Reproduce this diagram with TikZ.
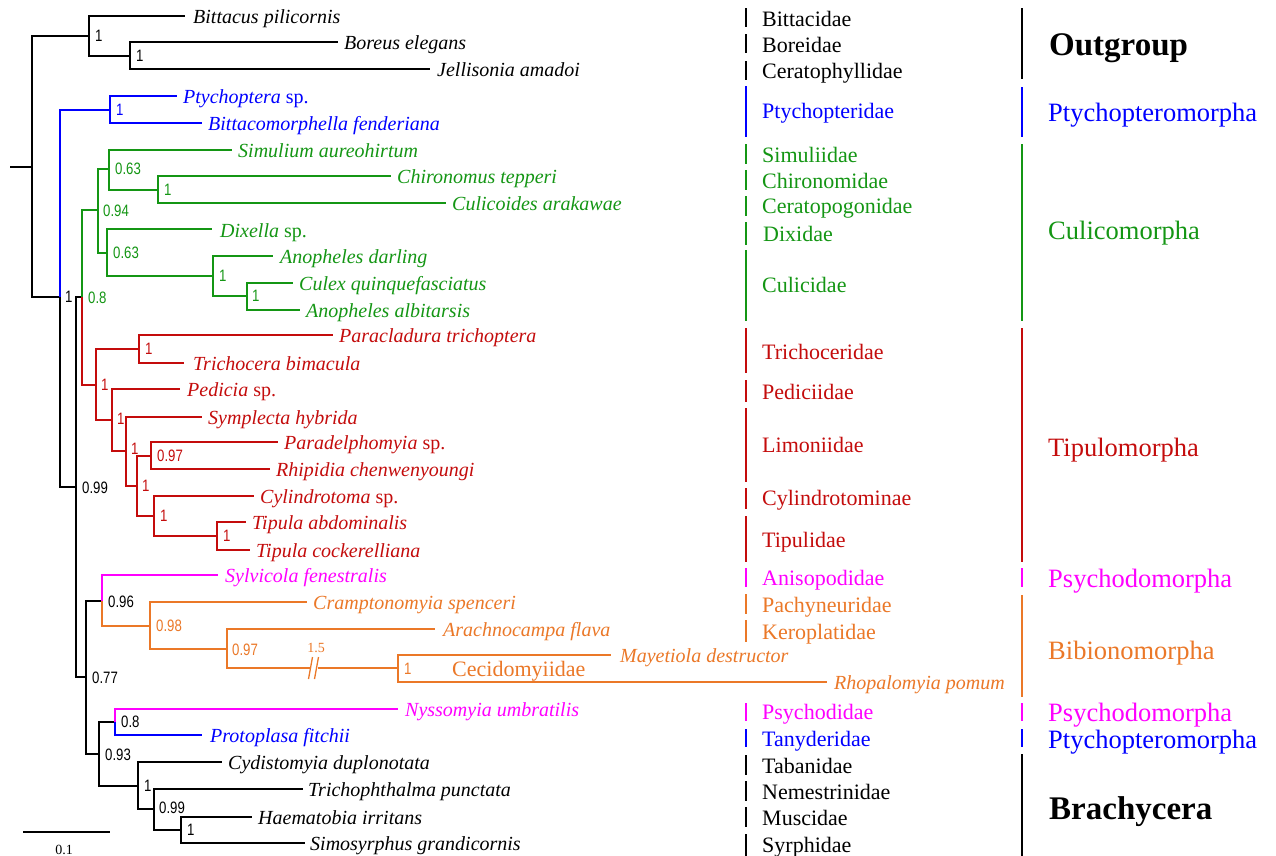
\documentclass[tikz,border=0pt]{standalone}
\usepackage{fontspec}
\setmainfont{Liberation Serif}
\newfontfamily\bsff[FakeStretch=0.8]{Liberation Sans}
\definecolor{cblue}{RGB}{0,0,255}
\definecolor{cgreen}{RGB}{20,150,20}
\definecolor{cred}{RGB}{196,12,12}
\definecolor{cmag}{RGB}{255,0,255}
\definecolor{corange}{RGB}{235,120,40}
\newcommand{\spf}{\fontsize{20bp}{24bp}\selectfont\itshape}
\newcommand{\famf}{\fontsize{22bp}{26bp}\selectfont}
\newcommand{\grpf}{\fontsize{26.5bp}{30bp}\selectfont}
\newcommand{\grpbf}{\fontsize{33bp}{38bp}\selectfont\bfseries}
\newcommand{\bsf}{\bsff\fontsize{16.5bp}{19bp}\selectfont}
\newcommand{\smf}{\fontsize{14bp}{16bp}\selectfont}
\tikzset{
 brl/.style={line width=1.9bp},
 bs/.style={anchor=west, inner sep=0pt, font=\bsf},
 sp/.style={anchor=base west, inner sep=0pt, font=\spf},
 fam/.style={anchor=base west, inner sep=0pt, font=\famf},
 grp/.style={anchor=base west, inner sep=0pt, font=\grpf},
 grpb/.style={anchor=base west, inner sep=0pt, font=\grpbf},
 bar/.style={line width=2.7bp},
}
\begin{document}
\begin{tikzpicture}[x=1bp,y=-1bp]
\useasboundingbox[fill=white] (0,0) rectangle (1276,856);
% ---------- internal nodes ----------
\coordinate (root0) at (10,167);
\coordinate (r0) at (32,167);
\coordinate (o1) at (89,36);
\coordinate (o2) at (130,56);
\coordinate (i1) at (60,297);
\coordinate (p1) at (110,110);
\coordinate (i2) at (76,487);
\coordinate (c0) at (82,297);
\coordinate (g1) at (98,210);
\coordinate (g2) at (109,169);
\coordinate (g3) at (158,190);
\coordinate (g4) at (107,253);
\coordinate (g5) at (213,276);
\coordinate (g6) at (247,296);
\coordinate (t1) at (96,385);
\coordinate (t2) at (139,349);
\coordinate (t3) at (112,420);
\coordinate (t4) at (126,451);
\coordinate (t5) at (137,486);
\coordinate (t6) at (151,456);
\coordinate (t7) at (154,516);
\coordinate (t8) at (217,536);
\coordinate (l0) at (86,677);
\coordinate (b0) at (102,601);
\coordinate (b1) at (150,626);
\coordinate (b2) at (227,649);
\coordinate (bk1) at (311,668);
\coordinate (bk2) at (318,668);
\coordinate (b3) at (398,668);
\coordinate (l1) at (99,754);
\coordinate (ps) at (115,722);
\coordinate (br0) at (138,786);
\coordinate (br1) at (154,809);
\coordinate (br2) at (181,830);
% ---------- tips ----------
\coordinate (bit) at (185,16);
\coordinate (bor) at (338,42);
\coordinate (jel) at (430,69);
\coordinate (pty) at (177,96);
\coordinate (btc) at (202,123);
\coordinate (siu) at (232,150);
\coordinate (chi) at (391,176);
\coordinate (cul) at (446,203);
\coordinate (dix) at (212,229);
\coordinate (and) at (273,256);
\coordinate (cux) at (293,283);
\coordinate (alb) at (300,310);
\coordinate (par) at (333,335);
\coordinate (tri) at (184,363);
\coordinate (ped) at (180,389);
\coordinate (sym) at (202,417);
\coordinate (pde) at (278,442);
\coordinate (rhi) at (270,469);
\coordinate (cyl) at (254,496);
\coordinate (tab) at (246,522);
\coordinate (tco) at (250,550);
\coordinate (syl) at (218,575);
\coordinate (cra) at (307,602);
\coordinate (ara) at (435,629);
\coordinate (may) at (611,655);
\coordinate (rho) at (827,682);
\coordinate (nys) at (398,709);
\coordinate (pro) at (202,735);
\coordinate (cyd) at (222,762);
\coordinate (trp) at (303,789);
\coordinate (hae) at (252,817);
\coordinate (sms) at (305,843);
% ---------- branches ----------
\draw[brl] (root0) -- (r0);
\draw[brl] (r0) |- (o1);
\draw[brl] (r0) |- (i1);
\draw[brl] (o1) |- (bit);
\draw[brl] (o1) |- (o2);
\draw[brl] (o2) |- (bor);
\draw[brl] (o2) |- (jel);
\draw[brl,cblue] (i1) |- (p1);
\draw[brl,cblue] (p1) |- (pty);
\draw[brl,cblue] (p1) |- (btc);
\draw[brl] (i1) |- (i2);
\draw[brl] (i2) |- (c0);
\draw[brl,cgreen] (c0) |- (g1);
\draw[brl,cgreen] (g1) |- (g2);
\draw[brl,cgreen] (g1) |- (g4);
\draw[brl,cgreen] (g2) |- (siu);
\draw[brl,cgreen] (g2) |- (g3);
\draw[brl,cgreen] (g3) |- (chi);
\draw[brl,cgreen] (g3) |- (cul);
\draw[brl,cgreen] (g4) |- (dix);
\draw[brl,cgreen] (g4) |- (g5);
\draw[brl,cgreen] (g5) |- (and);
\draw[brl,cgreen] (g5) |- (g6);
\draw[brl,cgreen] (g6) |- (cux);
\draw[brl,cgreen] (g6) |- (alb);
\draw[brl,cred] (c0) |- (t1);
\draw[brl,cred] (t1) |- (t2);
\draw[brl,cred] (t1) |- (t3);
\draw[brl,cred] (t2) |- (par);
\draw[brl,cred] (t2) |- (tri);
\draw[brl,cred] (t3) |- (ped);
\draw[brl,cred] (t3) |- (t4);
\draw[brl,cred] (t4) |- (sym);
\draw[brl,cred] (t4) |- (t5);
\draw[brl,cred] (t5) |- (t6);
\draw[brl,cred] (t5) |- (t7);
\draw[brl,cred] (t6) |- (pde);
\draw[brl,cred] (t6) |- (rhi);
\draw[brl,cred] (t7) |- (cyl);
\draw[brl,cred] (t7) |- (t8);
\draw[brl,cred] (t8) |- (tab);
\draw[brl,cred] (t8) |- (tco);
\draw[brl] (i2) |- (l0);
\draw[brl] (l0) |- (b0);
\draw[brl,cmag] (b0) |- (syl);
\draw[brl,corange] (b0) |- (b1);
\draw[brl,corange] (b1) |- (cra);
\draw[brl,corange] (b1) |- (b2);
\draw[brl,corange] (b2) |- (ara);
\draw[brl,corange] (b2) |- (bk1);
\draw[brl,corange] (bk2) -- (b3);
\draw[line width=1.3bp,corange] (308.5,679) -- (312.5,657);
\draw[line width=1.3bp,corange] (314.5,679) -- (318.5,657);
\draw[brl,corange] (b3) |- (may);
\draw[brl,corange] (b3) |- (rho);
\draw[brl] (l0) |- (l1);
\draw[brl] (l1) |- (ps);
\draw[brl,cmag] (ps) |- (nys);
\draw[brl,cblue] (ps) |- (pro);
\draw[brl] (l1) |- (br0);
\draw[brl] (br0) |- (cyd);
\draw[brl] (br0) |- (br1);
\draw[brl] (br1) |- (trp);
\draw[brl] (br1) |- (br2);
\draw[brl] (br2) |- (hae);
\draw[brl] (br2) |- (sms);
% ---------- support values ----------
\node[bs] (o1b) at (95,36) {1};
\node[bs] (o2b) at (136,56) {1};
\node[bs] (i1b) at (65,297) {1};
\node[bs,cblue] (p1b) at (116,110) {1};
\node[bs] (i2b) at (82,488) {0.99};
\node[bs,cgreen] (c0b) at (88,298) {0.8};
\node[bs,cgreen] (g1b) at (103,211) {0.94};
\node[bs,cgreen] (g2b) at (115,169) {0.63};
\node[bs,cgreen] (g3b) at (164,190) {1};
\node[bs,cgreen] (g4b) at (113,253) {0.63};
\node[bs,cgreen] (g5b) at (219,276) {1};
\node[bs,cgreen] (g6b) at (252,296) {1};
\node[bs,cred] (t1b) at (101,385) {1};
\node[bs,cred] (t2b) at (145,349) {1};
\node[bs,cred] (t3b) at (117,419) {1};
\node[bs,cred] (t4b) at (131,449) {1};
\node[bs,cred] (t5b) at (142,486) {1};
\node[bs,cred] (t6b) at (157,456) {0.97};
\node[bs,cred] (t7b) at (160,516) {1};
\node[bs,cred] (t8b) at (223,536) {1};
\node[bs] (l0b) at (92,678) {0.77};
\node[bs] (b0b) at (108,602) {0.96};
\node[bs,corange] (b1b) at (156,626) {0.98};
\node[bs,corange] (b2b) at (232,650) {0.97};
\node[bs,corange] (b3b) at (404,669) {1};
\node[bs] (l1b) at (105,755) {0.93};
\node[bs] (psb) at (121,722) {0.8};
\node[bs] (br0b) at (144,786) {1};
\node[bs] (br1b) at (159,808) {0.99};
\node[bs] (br2b) at (187,830) {1};
\node[font=\smf,corange,inner sep=0pt] (brk) at (316,648) {1.5};
\node[fam,corange] (cec) at (452,676) {Cecidomyiidae};
% ---------- scale bar ----------
\coordinate (sb1) at (23,832);
\coordinate (sb2) at (110,832);
\draw[line width=1.2bp] (sb1) -- (sb2);
\node[font=\smf,inner sep=0pt] (sbl) at (64,850) {0.1};
% ---------- species ----------
\node[sp] (bitT) at (193,23) {Bittacus pilicornis};
\node[sp] (borT) at (344,49) {Boreus elegans};
\node[sp] (jelT) at (437,76) {Jellisonia amadoi};
\node[sp,cblue] (ptyT) at (183,103) {Ptychoptera \upshape sp.};
\node[sp,cblue] (btcT) at (208,130) {Bittacomorphella fenderiana};
\node[sp,cgreen] (siuT) at (238,157) {Simulium aureohirtum};
\node[sp,cgreen] (chiT) at (397,183) {Chironomus tepperi};
\node[sp,cgreen] (culT) at (452,210) {Culicoides arakawae};
\node[sp,cgreen] (dixT) at (220,237) {Dixella \upshape sp.};
\node[sp,cgreen] (andT) at (280,263) {Anopheles darling};
\node[sp,cgreen] (cuxT) at (299,290) {Culex quinquefasciatus};
\node[sp,cgreen] (albT) at (306,317) {Anopheles albitarsis};
\node[sp,cred] (parT) at (339,342) {Paracladura trichoptera};
\node[sp,cred] (triT) at (193,370) {Trichocera bimacula};
\node[sp,cred] (pedT) at (187,396) {Pedicia \upshape sp.};
\node[sp,cred] (symT) at (208,424) {Symplecta hybrida};
\node[sp,cred] (pdeT) at (284,449) {Paradelphomyia \upshape sp.};
\node[sp,cred] (rhiT) at (276,476) {Rhipidia chenwenyoungi};
\node[sp,cred] (cylT) at (260,503) {Cylindrotoma \upshape sp.};
\node[sp,cred] (tabT) at (252,529) {Tipula abdominalis};
\node[sp,cred] (tcoT) at (256,557) {Tipula cockerelliana};
\node[sp,cmag] (sylT) at (225,582) {Sylvicola fenestralis};
\node[sp,corange] (craT) at (313,609) {Cramptonomyia spenceri};
\node[sp,corange] (araT) at (443,636) {Arachnocampa flava};
\node[sp,corange] (mayT) at (620,662) {Mayetiola destructor};
\node[sp,corange] (rhoT) at (834,689) {Rhopalomyia pomum};
\node[sp,cmag] (nysT) at (405,716) {Nyssomyia umbratilis};
\node[sp,cblue] (proT) at (210,742) {Protoplasa fitchii};
\node[sp] (cydT) at (228,769) {Cydistomyia duplonotata};
\node[sp] (trpT) at (308,796) {Trichophthalma punctata};
\node[sp] (haeT) at (258,824) {Haematobia irritans};
\node[sp] (smsT) at (310,850) {Simosyrphus grandicornis};
% ---------- family bars and names ----------
\draw[bar] (746,8) -- (746,27);   \node[fam] (f1) at (762,26) {Bittacidae};
\draw[bar] (746,34) -- (746,53);  \node[fam] (f2) at (762,52) {Boreidae};
\draw[bar] (746,61) -- (746,80);  \node[fam] (f3) at (762,78) {Ceratophyllidae};
\draw[bar,cblue] (746,86) -- (746,137); \node[fam,cblue] (f4) at (762,118) {Ptychopteridae};
\draw[bar,cgreen] (746,144) -- (746,164); \node[fam,cgreen] (f5) at (762,162) {Simuliidae};
\draw[bar,cgreen] (746,170) -- (746,190); \node[fam,cgreen] (f6) at (762,188) {Chironomidae};
\draw[bar,cgreen] (746,196) -- (746,216); \node[fam,cgreen] (f7) at (762,213) {Ceratopogonidae};
\draw[bar,cgreen] (746,222) -- (746,245); \node[fam,cgreen] (f8) at (763,241) {Dixidae};
\draw[bar,cgreen] (746,250) -- (746,321); \node[fam,cgreen] (f9) at (762,292) {Culicidae};
\draw[bar,cred] (746,328) -- (746,373); \node[fam,cred] (f10) at (762,359) {Trichoceridae};
\draw[bar,cred] (746,380) -- (746,402); \node[fam,cred] (f11) at (762,399) {Pediciidae};
\draw[bar,cred] (746,408) -- (746,482); \node[fam,cred] (f12) at (762,452) {Limoniidae};
\draw[bar,cred] (746,488) -- (746,509); \node[fam,cred] (f13) at (762,505) {Cylindrotominae};
\draw[bar,cred] (746,516) -- (746,562); \node[fam,cred] (f14) at (762,547) {Tipulidae};
\draw[bar,cmag] (746,568) -- (746,587); \node[fam,cmag] (f15) at (762,585) {Anisopodidae};
\draw[bar,corange] (746,594) -- (746,614); \node[fam,corange] (f16) at (762,612) {Pachyneuridae};
\draw[bar,corange] (746,620) -- (746,642); \node[fam,corange] (f17) at (762,639) {Keroplatidae};
\draw[bar,cmag] (746,703) -- (746,721); \node[fam,cmag] (f18) at (762,719) {Psychodidae};
\draw[bar,cblue] (746,729) -- (746,747); \node[fam,cblue] (f19) at (762,746) {Tanyderidae};
\draw[bar] (746,755) -- (746,775); \node[fam] (f20) at (762,773) {Tabanidae};
\draw[bar] (746,781) -- (746,801); \node[fam] (f21) at (762,799) {Nemestrinidae};
\draw[bar] (746,807) -- (746,827); \node[fam] (f22) at (762,825) {Muscidae};
\draw[bar] (746,834) -- (746,856); \node[fam] (f23) at (762,852) {Syrphidae};
% ---------- group bars and names ----------
\draw[bar] (1022,8) -- (1022,79); \node[grpb] (G1) at (1049,55) {Outgroup};
\draw[bar,cblue] (1022,87) -- (1022,137); \node[grp,cblue] (G2) at (1048,121) {Ptychopteromorpha};
\draw[bar,cgreen] (1022,144) -- (1022,321); \node[grp,cgreen] (G3) at (1048,239) {Culicomorpha};
\draw[bar,cred] (1022,328) -- (1022,562); \node[grp,cred] (G4) at (1048,456) {Tipulomorpha};
\draw[bar,cmag] (1022,568) -- (1022,587); \node[grp,cmag] (G5) at (1048,587) {Psychodomorpha};
\draw[bar,corange] (1022,595) -- (1022,697); \node[grp,corange] (G6) at (1048,659) {Bibionomorpha};
\draw[bar,cmag] (1022,703) -- (1022,721); \node[grp,cmag] (G7) at (1048,721) {Psychodomorpha};
\draw[bar,cblue] (1022,729) -- (1022,747); \node[grp,cblue] (G8) at (1048,748) {Ptychopteromorpha};
\draw[bar] (1022,754) -- (1022,856); \node[grpb] (G9) at (1049,819) {Brachycera};
\end{tikzpicture}
\end{document}
